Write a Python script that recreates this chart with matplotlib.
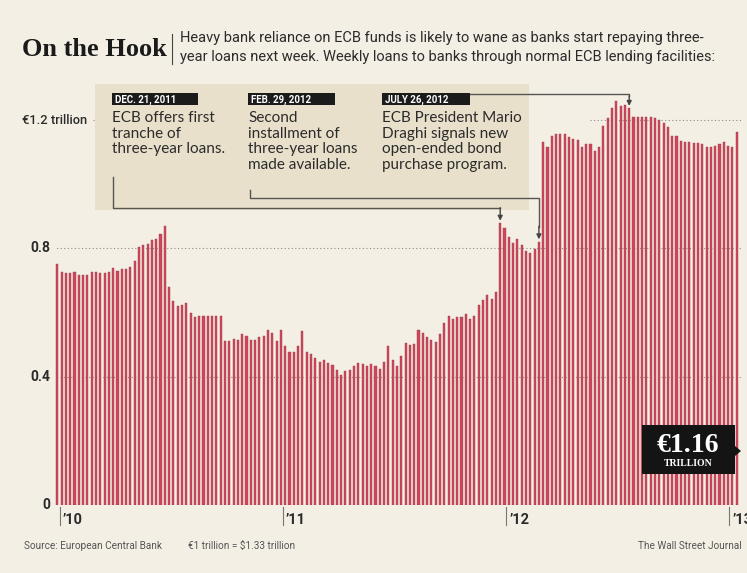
import matplotlib
matplotlib.use('Agg')
from matplotlib import pyplot as plt
from matplotlib import font_manager
from matplotlib.patches import Rectangle, Polygon
from matplotlib.transforms import Affine2D

# weekly loans through normal ECB lending facilities, trillion euros (Jan 2010 - Jan 2013)
loans = [
    0.75, 0.726, 0.722, 0.722, 0.726, 0.718, 0.717, 0.718, 0.726, 0.725,
    0.724, 0.724, 0.726, 0.74, 0.73, 0.735, 0.736, 0.742, 0.76, 0.805,
    0.81, 0.815, 0.826, 0.828, 0.845, 0.87,
    0.68, 0.635, 0.62, 0.625, 0.63, 0.597, 0.586, 0.588, 0.59, 0.59,
    0.59, 0.588, 0.59, 0.512, 0.512, 0.517, 0.515, 0.533, 0.528, 0.514,
    0.514, 0.523, 0.526, 0.547, 0.536, 0.512, 0.547,
    0.495, 0.478, 0.478, 0.495, 0.543, 0.477, 0.47, 0.457, 0.447, 0.453,
    0.443, 0.435, 0.422, 0.406, 0.417, 0.422, 0.433, 0.443, 0.438, 0.433,
    0.438, 0.433, 0.425,
    0.445, 0.497, 0.453, 0.434, 0.463, 0.505, 0.5, 0.503, 0.547, 0.536,
    0.523, 0.514, 0.508, 0.532, 0.568, 0.588, 0.58, 0.585, 0.585, 0.594,
    0.58, 0.588, 0.624, 0.64, 0.654, 0.642, 0.663,
    0.878, 0.865, 0.835, 0.817, 0.828, 0.81, 0.792, 0.786, 0.797, 0.82,
    1.132, 1.117, 1.149, 1.156, 1.156, 1.156, 1.146, 1.141, 1.139, 1.115,
    1.124, 1.126, 1.102, 1.115, 1.182, 1.205, 1.236, 1.26, 1.245, 1.247,
    1.236, 1.208, 1.208, 1.208, 1.208, 1.208, 1.205, 1.2, 1.19, 1.177,
    1.149, 1.151, 1.134, 1.132, 1.13, 1.128, 1.128, 1.125, 1.115, 1.115,
    1.12, 1.124, 1.13, 1.12, 1.115, 1.163,
]
year_labels = ['\u201910', '\u201911', '\u201912', '\u201913']
ytick_values = [0, 0.4, 0.8, 1.2]
ytick_labels = ['0', '0.4', '0.8', '\u20ac1.2 trillion']

# events: date label, text, index of the week the arrow points at
events = [
    ('DEC. 21, 2011', 'ECB offers first\ntranche of\nthree-year loans.', 103),
    ('FEB. 29, 2012', 'Second\ninstallment of\nthree-year loans\nmade available.', 112),
    ('JULY 26, 2012', 'ECB President Mario\nDraghi signals new\nopen-ended bond\npurchase program.', 133),
]
latest_label = '\u20ac1.16'

installed = {f.name for f in font_manager.fontManager.ttflist}


def pick(*names):
    return [n for n in names if n in installed] + ['DejaVu Sans']


narrow = pick('Roboto', 'Lato')
sans = pick('Lato', 'Open Sans')
serif = pick('Liberation Serif', 'DejaVu Serif')

BG = '#f4efe4'
BOX = '#e8e0cb'
BAR = '#d0455b'
BAR_EDGE = '#a23f4d'
INK = '#2b2b2b'
GREY = '#555555'

W, H = 747, 573
fig = plt.figure(figsize=(W / 100, H / 100), dpi=100, facecolor=BG)
# pixel coordinates measured from the top-left corner
PX = Affine2D().scale(1 / W, -1 / H).translate(0, 1) + fig.transFigure

# axes geometry: first bar at x=57.3px, 4.3px per week, zero at y=505px, 320.8px per trillion
X0, STEP, Y0, SCALE = 57.3, 4.3, 505, 320.8


def xi(px):
    return (px - X0) / STEP


def yv(py):
    return (Y0 - py) / SCALE


ax = fig.add_axes([55 / W, (H - 505) / H, (742 - 55) / W, (505 - 85) / H])
ax.set_facecolor(BG)
ax.set_xlim(xi(55), xi(742))
ax.set_ylim(0, yv(85))
for s in ax.spines.values():
    s.set_visible(False)
ax.set_xticks([])
ax.set_yticks([])

idx = list(range(len(loans)))
ax.bar(idx, loans, width=0.5, color=BAR, edgecolor=BAR_EDGE, linewidth=0.3, zorder=3)

# dotted gridlines
grid = dict(color='#8a8a8a', linestyle=(0, (1, 2.2)), linewidth=0.8, zorder=1)
ax.plot([xi(53), xi(742)], [0.4, 0.4], **grid)
ax.plot([xi(53), xi(742)], [0.8, 0.8], **grid)
ax.plot([xi(93), xi(97)], [1.2, 1.2], **grid)
ax.plot([xi(590), xi(742)], [1.2, 1.2], **grid)

# y labels
for v, lab in zip(ytick_values, ytick_labels):
    if v == 1.2:
        fig.text(22, Y0 - v * SCALE, lab, transform=PX, ha='left', va='center',
                 fontsize=9.3, fontweight='medium', color=INK, family=narrow)
    else:
        fig.text(50, Y0 - v * SCALE, lab, transform=PX, ha='right', va='center',
                 fontsize=10, fontweight='bold', color=INK, family=narrow)

# year ticks
for k, lab in enumerate(year_labels):
    t = 0.6 + 51.9 * k
    x = X0 + t * STEP
    fig.add_artist(plt.Line2D([x, x], [507, 525], transform=PX, color='#777777', lw=0.8))
    fig.text(x + 3, 520, lab, transform=PX, ha='left', va='center',
             fontsize=10.5, fontweight='bold', color=INK, family=narrow)

# annotation box
ax.add_patch(Rectangle((xi(95), yv(210)), xi(529) - xi(95), yv(84) - yv(210),
                       facecolor=BOX, edgecolor='none', zorder=2, clip_on=False))

date_box = [(112, 198), (248, 335), (382, 470)]
for (date, text, target), (x1, x2) in zip(events, date_box):
    fig.add_artist(Rectangle((x1, 105), x2 - x1, -12, transform=PX,
                             facecolor='#1b1b1b', edgecolor='none'))
    fig.text(x1 + 3, 99.5, date, transform=PX, ha='left', va='center', fontsize=7,
             fontweight='bold', color='white', family=narrow)
    fig.text(x1, 111, text, transform=PX, ha='left', va='top', fontsize=11,
             color=INK, family=sans, linespacing=1.15)

# leader lines to the bars
line = dict(color='#555555', lw=1, zorder=4, clip_on=False)
arrow = dict(arrowstyle='-|>', color='#444444', lw=1, mutation_scale=7, shrinkA=0, shrinkB=0)
paths = [
    (113, 177, 208),
    (250, 190, 198),
]
for (px, py_start, py_h), (_, _, target) in zip(paths, events[:2]):
    top = loans[target] + 0.008
    ax.plot([xi(px), xi(px), target, target], [yv(py_start), yv(py_h), yv(py_h), top + 0.04], **line)
    ax.annotate('', xy=(target, top), xytext=(target, top + 0.041), arrowprops=arrow, zorder=5)

target = events[2][2]
top = loans[target] + 0.008
ax.plot([xi(470), target, target], [yv(94), yv(94), top + 0.03], **line)
ax.annotate('', xy=(target, top), xytext=(target, top + 0.031), arrowprops=arrow, zorder=5)

# latest value badge
fig.add_artist(Rectangle((642, 474), 93, -49, transform=PX, facecolor='#141414', edgecolor='none'))
fig.add_artist(Polygon([(735, 446), (741, 451), (735, 456)], closed=True, transform=PX,
                       facecolor='#141414', edgecolor='none'))
fig.text(688, 445, latest_label, transform=PX, ha='center', va='center', fontsize=20,
         fontweight='bold', color='white', family=serif)
fig.text(688, 464, 'TRILLION', transform=PX, ha='center', va='center', fontsize=7,
         fontweight='bold', color='white', family=serif)

# title and subtitle
fig.text(22, 49, 'On the Hook', transform=PX, ha='left', va='center', fontsize=19,
         fontweight='bold', color='#1a1a1a', family=serif)
fig.add_artist(plt.Line2D([172, 172], [34, 64], transform=PX, color='#444444', lw=0.8))
fig.text(180, 38, 'Heavy bank reliance on ECB funds is likely to wane as banks start repaying three-',
         transform=PX, ha='left', va='center', fontsize=10.5, color=INK, family=narrow)
fig.text(180, 57, 'year loans next week. Weekly loans to banks through normal ECB lending facilities:',
         transform=PX, ha='left', va='center', fontsize=10.5, color=INK, family=narrow)

# footer
fig.text(24, 546, 'Source: European Central Bank', transform=PX, ha='left', va='center',
         fontsize=7.2, color=GREY, family=narrow)
fig.text(188, 546, '\u20ac1 trillion = $1.33 trillion', transform=PX, ha='left', va='center',
         fontsize=7.2, color=GREY, family=narrow)
fig.text(742, 546, 'The Wall Street Journal', transform=PX, ha='right', va='center',
         fontsize=7.2, color=GREY, family=narrow)

fig.savefig('out.png', dpi=100, facecolor=BG)
